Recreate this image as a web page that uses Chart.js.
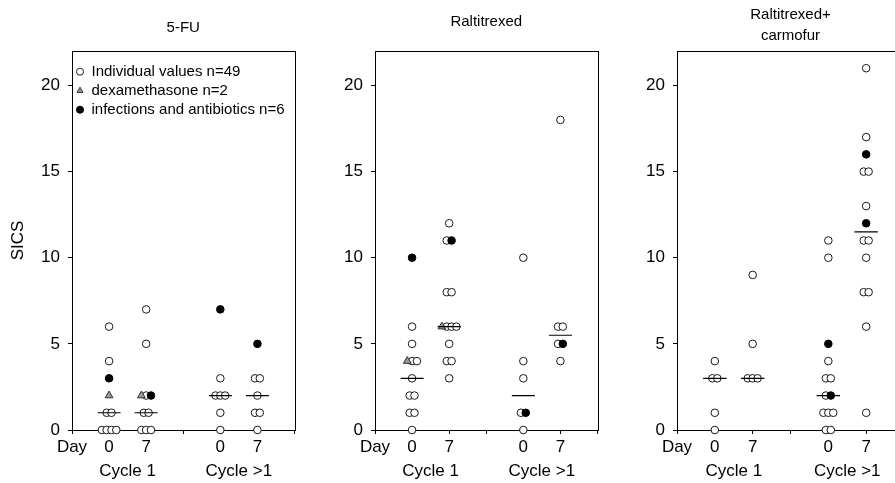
<!DOCTYPE html>
<html>
<head>
<meta charset="utf-8">
<title>SICS by treatment</title>
<script src="https://cdn.jsdelivr.net/npm/chart.js@4.4.1/dist/chart.umd.min.js"></script>
<style>
  html, body { margin: 0; padding: 0; background: #fff; overflow: hidden; }
  body { width: 895px; height: 483px; position: relative; }
  .panel { position: absolute; top: 0; height: 483px; }
</style>
</head>
<body>
<div class="panel" style="left:0;width:300px"><canvas id="fu"></canvas></div>
<div class="panel" style="left:300px;width:303px"><canvas id="ral"></canvas></div>
<div class="panel" style="left:595px;width:315px"><canvas id="ralCar"></canvas></div>
<script>
// x axis: "Day" sits at 0, cycle 1 days at 1 and 2, cycle >1 days at 4 and 5
const dayTicks = [0, 1, 2, 3, 4, 5, 6];
const dayLabels = ['Day', '0', '7', '', '0', '7', ''];
const groupCenters = [1, 2, 4, 5];
const cycleTicks = [1.5, 4.5];
const cycleLabels = ['Cycle 1', 'Cycle >1'];
const yTicks = [0, 5, 10, 15, 20];

const legendLabels = ['Individual values n=49', 'dexamethasone n=2', 'infections and antibiotics n=6'];

// each list: [cycle 1 day 0, cycle 1 day 7, cycle >1 day 0, cycle >1 day 7]
const fuOpen = [[0, 0, 0, 0, 1, 1, 4, 6], [0, 0, 0, 1, 1, 2, 5, 7], [0, 1, 2, 2, 2, 3], [0, 1, 1, 2, 3, 3]];
const fuDexa = [[2], [2], [], []];
const fuInfect = [[3], [2], [7], [5]];
const fuMedians = [1, 1, 2, 2];

const ralOpen = [[0, 1, 1, 2, 2, 3, 4, 4, 5, 6], [3, 4, 4, 5, 6, 6, 6, 8, 8, 11, 12], [0, 1, 3, 4, 10], [4, 5, 6, 6, 18]];
const ralDexa = [[4], [6], [], []];
const ralInfect = [[10], [11], [1], [5]];
const ralMedians = [3, 6, 2, 5.5];

const rcOpen = [[0, 1, 3, 3, 4], [3, 3, 3, 5, 9], [0, 0, 1, 1, 1, 2, 3, 3, 4, 10, 11], [1, 6, 8, 8, 10, 11, 11, 13, 15, 15, 17, 21]];
const rcDexa = [[], [], [], []];
const rcInfect = [[], [], [2, 5], [12, 16]];
const rcMedians = [3, 3, 2, 11.5];

Chart.defaults.font.family = "'Liberation Sans', Arial, sans-serif";
Chart.defaults.font.size = 17;
Chart.defaults.color = '#000';

// nudge coincident values sideways so they stay visible
function spread(open, dexa, infect) {
    const src = [open, dexa, infect];
    const out = [[], [], []];
    groupCenters.forEach((c, g) => {
        const byValue = {};
        [1, 0, 2].forEach(t => src[t][g].forEach(v => {
            (byValue[v] = byValue[v] || []).push(t);
        }));
        Object.keys(byValue).forEach(v => {
            const list = byValue[v];
            list.forEach((t, i) => {
                out[t].push({ x: c + (i - (list.length - 1) / 2) * 0.13, y: Number(v) });
            });
        });
    });
    return out;
}

const frame = {
    id: 'frame',
    beforeDatasetsDraw(chart) {
        const { ctx, chartArea: a } = chart;
        ctx.save();
        ctx.strokeStyle = '#000';
        ctx.lineWidth = 1;
        ctx.strokeRect(Math.round(a.left) + 0.5, Math.round(a.top) + 0.5, Math.round(a.right - a.left), Math.round(a.bottom - a.top));
        ctx.restore();
    }
};

function makePanel(id, title, open, dexa, infect, medians, cfg) {
    const pts = spread(open, dexa, infect);
    const medianData = [];
    medians.forEach((m, g) => {
        medianData.push({ x: groupCenters[g] - 0.31, y: m }, { x: groupCenters[g] + 0.31, y: m }, { x: groupCenters[g], y: null });
    });

    new Chart(document.getElementById(id), {
        type: 'scatter',
        data: {
            datasets: [
                { label: legendLabels[0], data: pts[0], pointStyle: 'circle', pointRadius: 3.8, backgroundColor: '#fff', borderColor: '#1a1a1a', borderWidth: 1, order: 3, clip: false },
                { label: legendLabels[1], data: pts[1], pointStyle: 'triangle', pointRadius: 4.5, backgroundColor: '#999', borderColor: '#333', borderWidth: 1, order: 2, clip: false },
                { label: legendLabels[2], data: pts[2], pointStyle: 'circle', pointRadius: 3.8, backgroundColor: '#000', borderColor: '#000', borderWidth: 1, order: 1, clip: false },
                { label: 'median', data: medianData, showLine: true, spanGaps: false, pointRadius: 0, borderColor: '#000', borderWidth: 1.2, order: 0 }
            ]
        },
        options: {
            responsive: true,
            maintainAspectRatio: false,
            animation: false,
            events: [],
            layout: { padding: { left: 0, right: cfg.padRight, top: 0, bottom: 0 } },
            plugins: {
                tooltip: { enabled: false },
                title: {
                    display: true,
                    text: title,
                    fullSize: false,
                    color: '#000',
                    font: { size: 15, weight: 'normal', lineHeight: cfg.titleLine },
                    padding: cfg.titlePad
                },
                legend: {
                    display: cfg.legend,
                    position: 'chartArea',
                    align: 'start',
                    // vertical legends get top = 0, so the blank title pushes rows into the frame
                    title: { display: true, text: ' ', font: { size: 1 }, padding: { top: 0, bottom: 59 } },
                    labels: {
                        usePointStyle: true,
                        boxWidth: 8,
                        boxHeight: 5,
                        padding: 4,
                        color: '#000',
                        font: { size: 15, lineHeight: 1 },
                        filter: item => item.datasetIndex < 3,
                        sort: (a, b) => a.datasetIndex - b.datasetIndex
                    }
                }
            },
            scales: {
                x: {
                    type: 'linear',
                    position: 'bottom',
                    min: 0,
                    max: 6,
                    weight: 0,
                    afterBuildTicks: axis => { axis.ticks = dayTicks.map(v => ({ value: v })); },
                    afterFit: axis => { axis.height = 28; },
                    ticks: { autoSkip: false, maxRotation: 0, padding: 3, callback: (v, i) => dayLabels[i] },
                    grid: { drawOnChartArea: false, tickLength: 4, color: '#000' },
                    border: { color: '#000' }
                },
                cycle: {
                    type: 'linear',
                    position: 'bottom',
                    min: 0,
                    max: 6,
                    weight: 1,
                    afterBuildTicks: axis => { axis.ticks = cycleTicks.map(v => ({ value: v })); },
                    afterFit: axis => { axis.height = 25; },
                    ticks: { autoSkip: false, maxRotation: 0, padding: 3, callback: (v, i) => cycleLabels[i] },
                    grid: { display: false, drawTicks: false },
                    border: { display: false }
                },
                y: {
                    type: 'linear',
                    min: 0,
                    max: 22,
                    afterBuildTicks: axis => { axis.ticks = yTicks.map(v => ({ value: v })); },
                    afterFit: axis => { axis.width = cfg.yWidth; },
                    ticks: { padding: 8 },
                    grid: { drawOnChartArea: false, tickLength: 4, color: '#000' },
                    border: { color: '#000' },
                    title: { display: cfg.yTitle, text: 'SICS', font: { size: 17 }, padding: { top: 8, bottom: 0 } }
                }
            }
        },
        plugins: [frame]
    });
}

makePanel('fu', '5-FU', fuOpen, fuDexa, fuInfect, fuMedians,
    { padRight: 2, yWidth: 72, yTitle: true, legend: true, titleLine: 1.2, titlePad: { top: 19, bottom: 14 } });
makePanel('ral', 'Raltitrexed', ralOpen, ralDexa, ralInfect, ralMedians,
    { padRight: 1, yWidth: 75, yTitle: false, legend: false, titleLine: 1.2, titlePad: { top: 13, bottom: 20 } });
makePanel('ralCar', ['Raltitrexed+', 'carmofur'], rcOpen, rcDexa, rcInfect, rcMedians,
    { padRight: 6, yWidth: 82, yTitle: false, legend: false, titleLine: 1.4, titlePad: { top: 4, bottom: 5 } });
</script>
</body>
</html>
